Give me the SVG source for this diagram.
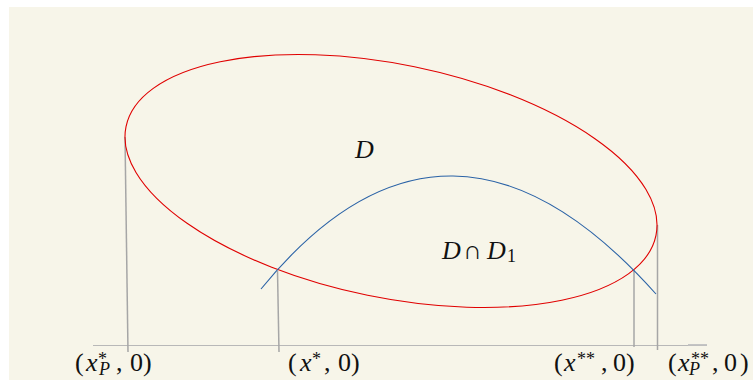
<svg xmlns="http://www.w3.org/2000/svg" width="753" height="380" viewBox="0 0 753 380">
<style>
.m{font-family:"Liberation Serif","DejaVu Serif",serif;font-size:26px;fill:#111}
.i{font-style:italic}
.s{font-size:18px}
.guide{stroke:#a6a6a6;stroke-width:1.5;fill:none}
</style>
<rect x="0" y="0" width="753" height="380" fill="#ffffff"/>
<rect x="9" y="7" width="744" height="373" fill="#f7f5e9"/>
<g id="axis">
<line x1="93" y1="345.5" x2="707" y2="345.5" stroke="#b8b8b8" stroke-width="1"/>
<line x1="688" y1="344.8" x2="707" y2="344.8" stroke="#c4c4c4" stroke-width="1.6"/>
</g>
<g id="connectors">
<line class="guide" x1="125" y1="137" x2="128" y2="352"/>
<line class="guide" x1="277.5" y1="271" x2="279" y2="352"/>
<line class="guide" x1="634" y1="270" x2="634" y2="347"/>
<line class="guide" x1="657.5" y1="225" x2="657.5" y2="350"/>
</g>
<g id="D">
<ellipse cx="391" cy="181" rx="270.5" ry="116.6" transform="rotate(11.6 391 181)" fill="none" stroke="#e00000" stroke-width="1.1"/>
</g>
<g id="D1">
<path d="M261,289 Q447.5,60.5 656,294" fill="none" stroke="#2a62a6" stroke-width="1.1"/>
</g>
<g id="labels">
<text class="m i" x="355" y="158">D</text>
<text class="m" y="259"><tspan class="i" x="442">D</tspan><tspan x="463">∩</tspan><tspan class="i" x="487">D</tspan><tspan class="s" x="507" y="262">1</tspan></text>
<text class="m" y="371"><tspan x="75">(</tspan><tspan class="i" x="86">x</tspan><tspan class="s" x="98" y="365">*</tspan><tspan class="s i" x="99" y="375">P</tspan><tspan x="116" y="371">,</tspan><tspan x="130">0</tspan><tspan x="143">)</tspan></text>
<text class="m" y="371"><tspan x="288">(</tspan><tspan class="i" x="300">x</tspan><tspan class="s" x="312" y="365">*</tspan><tspan x="324" y="371">,</tspan><tspan x="338">0</tspan><tspan x="351">)</tspan></text>
<text class="m" y="371"><tspan x="554">(</tspan><tspan class="i" x="564">x</tspan><tspan class="s" x="577" y="365">**</tspan><tspan x="601" y="371">,</tspan><tspan x="613">0</tspan><tspan x="626">)</tspan></text>
<text class="m" y="371"><tspan x="668">(</tspan><tspan class="i" x="678">x</tspan><tspan class="s" x="691" y="365">**</tspan><tspan class="s i" x="689" y="375">P</tspan><tspan x="712" y="371">,</tspan><tspan x="724">0</tspan><tspan x="740">)</tspan></text>
</g>
</svg>
